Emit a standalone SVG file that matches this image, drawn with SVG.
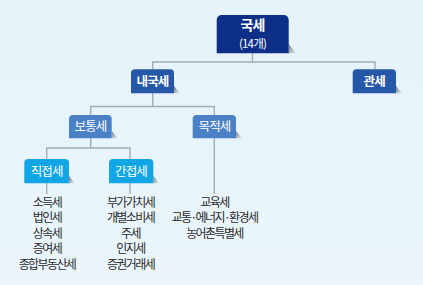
<svg xmlns="http://www.w3.org/2000/svg" width="423" height="285" viewBox="0 0 423 285">
<style>
.bx{stroke:none}
.l0{fill:#0e2f88}
.l1{fill:#2558a8}
.l2{fill:#4a80c6}
.l3{fill:#10a6e6}
.lbl{font-family:"Noto Sans CJK KR","Noto Sans",sans-serif;fill:#fff;text-anchor:middle;letter-spacing:-0.8px}
.b{font-weight:bold}
.lst{font-family:"Noto Sans CJK KR","Noto Sans",sans-serif;font-size:12px;fill:#2b2b2b;text-anchor:middle;letter-spacing:-1.6px}
.conn{fill:none;stroke:#a3acb4;stroke-width:1.4}
</style>
<defs>
<linearGradient id="sh" x1="0" y1="0" x2="1" y2="1">
<stop offset="0" stop-color="#555" stop-opacity="0.85"/>
<stop offset="1" stop-color="#888" stop-opacity="0.1"/>
</linearGradient>
<linearGradient id="bg" x1="0" y1="0" x2="0" y2="1">
<stop offset="0" stop-color="#e6f3fb"/>
<stop offset="1" stop-color="#eaf5fc"/>
</linearGradient>
</defs>
<rect width="423" height="285" fill="url(#bg)"/>
<g id="connectors">
<path class="conn" d="M252.5 53V62M152.7 69V62H375V69"/>
<path class="conn" d="M152.7 93V106.5M90.7 115V106.5H214.3V115"/>
<path class="conn" d="M90.7 138V148M46.7 159V148H130V159"/>
<path class="conn" d="M46.7 183V194M130 183V194M214.3 138V194"/>
</g>
<g id="n-root">
<path fill="url(#sh)" d="M288.7 44L296 53.3H288.7Z"/>
<path class="bx l0" d="M216.7 53.3V20A5 5 0 0 1 221.7 15H283.7A5 5 0 0 1 288.7 20V53.3Z"/>
<text class="lbl b" x="252.5" y="30" font-size="14">국세</text>
<text class="lbl" x="252.5" y="47.5" font-size="11.5">(14개)</text>
</g>
<g id="n-naegukse">
<path fill="url(#sh)" d="M174 86L180 93.3H174Z"/>
<path class="bx l1" d="M131 93.3V73.3A4 4 0 0 1 135 69.3H170A4 4 0 0 1 174 73.3V93.3Z"/>
<text class="lbl b" x="152.5" y="86" font-size="12.5">내국세</text>
</g>
<g id="n-gwanse">
<path fill="url(#sh)" d="M396 86L402 93.3H396Z"/>
<path class="bx l1" d="M352.7 93.3V73.3A4 4 0 0 1 356.7 69.3H392A4 4 0 0 1 396 73.3V93.3Z"/>
<text class="lbl b" x="374.3" y="86" font-size="12.5">관세</text>
</g>
<g id="n-botong">
<path fill="url(#sh)" d="M111.7 131L117.7 138.3H111.7Z"/>
<path class="bx l2" d="M69 138.3V119A4 4 0 0 1 73 115H107.7A4 4 0 0 1 111.7 119V138.3Z"/>
<text class="lbl" x="90.5" y="131" font-size="12.5">보통세</text>
</g>
<g id="n-mokjeok">
<path fill="url(#sh)" d="M236 131L242 138.3H236Z"/>
<path class="bx l2" d="M192.7 138.3V119A4 4 0 0 1 196.7 115H232A4 4 0 0 1 236 119V138.3Z"/>
<text class="lbl" x="214.5" y="131" font-size="12.5">목적세</text>
</g>
<g id="n-jikjeop">
<path fill="url(#sh)" d="M69 176L75 183.3H69Z"/>
<path class="bx l3" d="M24.3 183.3V163A4 4 0 0 1 28.3 159H65A4 4 0 0 1 69 163V183.3Z"/>
<text class="lbl" x="46.7" y="175.5" font-size="12.5">직접세</text>
</g>
<g id="n-ganjeop">
<path fill="url(#sh)" d="M153.3 176L159.3 183.3H153.3Z"/>
<path class="bx l3" d="M109 183.3V163A4 4 0 0 1 113 159H149.3A4 4 0 0 1 153.3 163V183.3Z"/>
<text class="lbl" x="131" y="175.5" font-size="12.5">간접세</text>
</g>
<g id="list-jikjeop">
<text class="lst" x="47" y="206.5">소득세</text>
<text class="lst" x="47" y="222">법인세</text>
<text class="lst" x="47" y="237.5">상속세</text>
<text class="lst" x="47" y="253">증여세</text>
<text class="lst" x="47" y="268.5">종합부동산세</text>
</g>
<g id="list-ganjeop">
<text class="lst" x="130.5" y="206.5">부가가치세</text>
<text class="lst" x="130.5" y="222">개별소비세</text>
<text class="lst" x="130.5" y="237.5">주세</text>
<text class="lst" x="130.5" y="253">인지세</text>
<text class="lst" x="130.5" y="268.5">증권거래세</text>
</g>
<g id="list-mokjeok">
<text class="lst" x="214.5" y="206.5">교육세</text>
<text class="lst" x="214.5" y="222">교통·에너지·환경세</text>
<text class="lst" x="214.5" y="237.5">농어촌특별세</text>
</g>
</svg>
